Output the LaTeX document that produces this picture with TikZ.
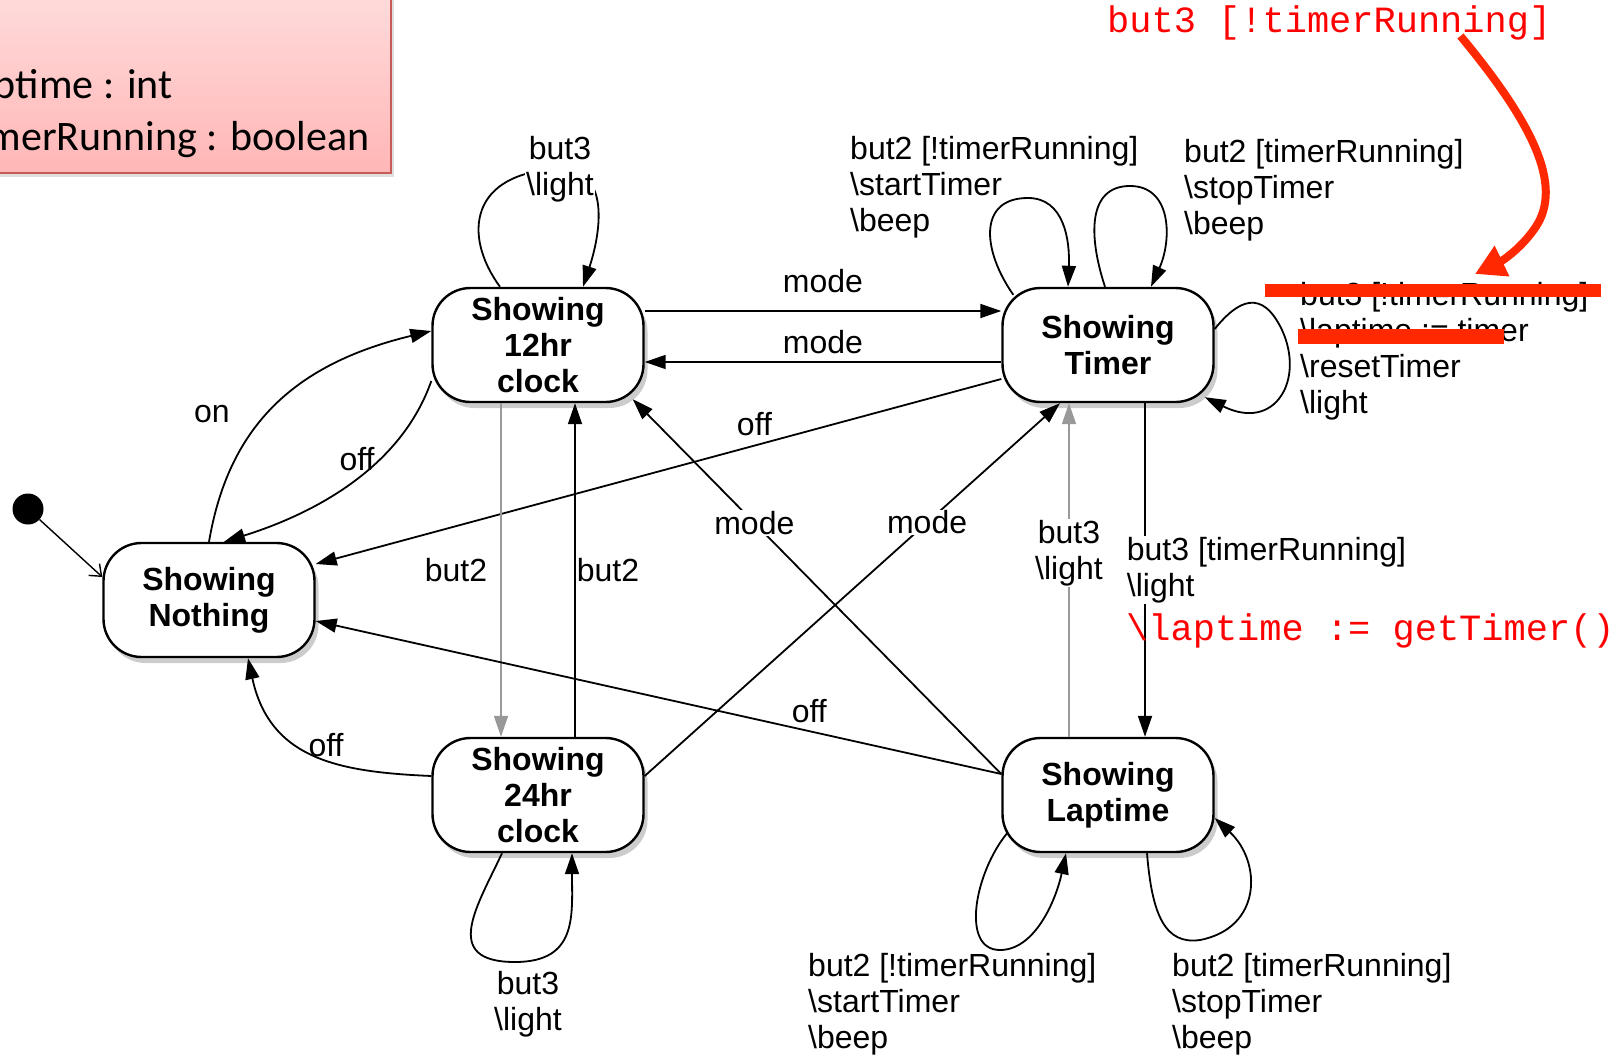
\documentclass[tikz,border=0pt]{standalone}
\usepackage{fontspec}
\setmainfont{Liberation Sans}
\newfontfamily\courfont{Liberation Mono}
\newfontfamily\calfont{Carlito}
\usetikzlibrary{arrows.meta,shadows}
\definecolor{notered}{RGB}{255,0,0}
\definecolor{markred}{RGB}{255,40,0}
\definecolor{boxtop}{RGB}{255,226,226}
\definecolor{boxpink}{RGB}{255,182,182}
\definecolor{boxedge}{RGB}{200,90,88}

\begin{document}
\begin{tikzpicture}[x=1pt,y=1pt,
    state/.style={draw, line width=2.4pt, rounded corners=38pt, fill=white,
      minimum width=211pt, minimum height=114pt, inner sep=0pt, align=center,
      font=\fontsize{32}{36}\selectfont\bfseries,
      drop shadow={shadow xshift=4pt, shadow yshift=-6pt, opacity=0.4}},
    trans/.style={line width=1.8pt, -{Triangle[length=21pt,width=14pt]}},
    faded/.style={trans, draw=black!40},
    lbl/.style={font=\fontsize{32}{36}\selectfont, align=left, inner sep=1pt},
    code/.style={font=\courfont\fontsize{37}{40}\selectfont, text=notered, inner sep=0pt}]
    \useasboundingbox (0,0) rectangle (1623,-1057);

    \draw[draw=boxedge, line width=1.5pt, top color=boxtop, bottom color=boxpink,
      drop shadow={shadow xshift=3pt, shadow yshift=-4pt, opacity=0.25}] (-40,40) rectangle (391,-173);
    \node[anchor=west, font=\calfont\fontsize{42}{52}\selectfont, align=left, inner sep=0pt] (vars) at (-36,-114) {laptime : int\\timerRunning : boolean};

    \node[state] (n12) at (538,-345) {Showing\\12hr\\clock};
    \node[state] (ntm) at (1108,-345) {Showing\\Timer};
    \node[state] (nnt) at (209,-600) {Showing\\Nothing};
    \node[state] (n24) at (538,-795) {Showing\\24hr\\clock};
    \node[state] (nlp) at (1108,-795) {Showing\\Laptime};
    \node[circle, fill, minimum size=31pt, inner sep=0pt] (init) at (28,-509) {};

    \draw[line width=1.4pt, -{Straight Barb[length=10pt,width=16pt]}] (init) -- (nnt.west |- 0,-577);

    \draw[trans] (n12.east |- 0,-311) -- node[lbl, above=16pt] {mode} (ntm.west |- 0,-311);
    \draw[trans] (ntm.west |- 0,-362) -- node[lbl, above=6pt] {mode} (n12.east |- 0,-362);
    \draw[trans] (ntm.west |- 0,-379) -- node[lbl, pos=0.36, above=8pt] {off} (nnt.east |- 0,-564);
    \draw[trans] (n12.west |- 0,-381) .. controls (400,-470) and (310,-515) .. (nnt.north -| 224,0);
    \node[lbl] (off1lbl) at (357,-459) {off};
    \draw[trans] (nnt.north -| 209,0) .. controls (228,-430) and (290,-365) .. (n12.west |- 0,-331);
    \node[lbl] (onlbl) at (212,-414) {on};
    \draw[faded] (n12.south -| 501,0) -- node[lbl, left=12pt] {but2} (n24.north -| 501,0);
    \draw[trans] (n24.north -| 575,0) -- node[lbl, right=0pt] {but2} (n12.south -| 575,0);
    \draw[trans] (n24.west |- 0,-776) .. controls (340,-772) and (270,-760) .. (nnt.south -| 248,0);
    \node[lbl] (off2lbl) at (326,-745) {off};
    \draw[trans] (nlp.west |- 0,-774) -- node[lbl, pos=0.28, above=6pt] {off} (nnt.east |- 0,-621);
    \draw[trans] (nlp.west |- 0,-774) -- node[lbl, fill=white, pos=0.67] {mode} ([shift={(-12,4)}]n12.south east);
    \draw[trans] (n24.east |- 0,-776) -- node[lbl, fill=white, pos=0.68] {mode} (ntm.south -| 1060,0);
    \draw[faded] (nlp.north -| 1069,0) -- node[lbl, fill=white, align=center, pos=0.55] {but3\\{\textbackslash}light} (ntm.south -| 1069,0);
    \draw[trans] (ntm.south -| 1145,0) -- node[lbl, fill=white, anchor=west, xshift=-20pt] {but3 [timerRunning]\\{\textbackslash}light} (nlp.north -| 1145,0);
    \node[code, anchor=west] (lapcode) at (1126,-631) {{\textbackslash}laptime := getTimer()};

    \draw[trans] (n12.north -| 500,0) .. controls (462,-235) and (470,-172) .. (560,-169)
      node[lbl, fill=white, align=center] (l12lbl) {but3\\{\textbackslash}light}
      .. controls (612,-169) and (600,-235) .. (n12.north -| 583,0);
    \draw[trans] (n24.south -| 502,0) .. controls (478,-905) and (440,-962) .. (515,-962)
      .. controls (578,-962) and (572,-915) .. (n24.south -| 572,0);
    \node[lbl, align=center] (l24lbl) at (528,-1004) {but3\\{\textbackslash}light};

    \draw[trans] ([shift={(12,-8)}]ntm.north west) .. controls (982,-250) and (978,-198) .. (1028,-198)
      .. controls (1064,-198) and (1070,-240) .. (ntm.north -| 1068,0);
    \draw[trans] (ntm.north -| 1105,0) .. controls (1088,-235) and (1088,-186) .. (1130,-186)
      .. controls (1172,-186) and (1172,-240) .. (ntm.north -| 1151,0);
    \draw[trans] (ntm.east |- 0,-329) .. controls (1238,-300) and (1262,-288) .. (1282,-330)
      .. controls (1305,-380) and (1275,-432) .. ([shift={(-10,6)}]ntm.south east);
    \node[lbl, anchor=west] (tm1lbl) at (849,-187) {but2 [!timerRunning]\\{\textbackslash}startTimer\\{\textbackslash}beep};
    \node[lbl, anchor=west] (tm2lbl) at (1183,-190) {but2 [timerRunning]\\{\textbackslash}stopTimer\\{\textbackslash}beep};
    \node[lbl, anchor=west] (tm3lbl) at (1299,-351) {but3 [!timerRunning]\\{\textbackslash}laptime := timer\\{\textbackslash}resetTimer\\{\textbackslash}light};

    \draw[trans] ([shift={(6,-38)}]nlp.west) .. controls (975,-872) and (960,-950) .. (1000,-950)
      .. controls (1035,-950) and (1056,-900) .. (nlp.south -| 1066,0);
    \draw[trans] (nlp.south -| 1147,0) .. controls (1152,-915) and (1165,-945) .. (1200,-940)
      .. controls (1262,-928) and (1262,-862) .. (nlp.east |- 0,-818);
    \node[lbl, anchor=west] (lp1lbl) at (807,-1004) {but2 [!timerRunning]\\{\textbackslash}startTimer\\{\textbackslash}beep};
    \node[lbl, anchor=west] (lp2lbl) at (1171,-1004) {but2 [timerRunning]\\{\textbackslash}stopTimer\\{\textbackslash}beep};

    \fill[markred] (1265,-284) rectangle (1601,-297);
    \fill[markred] (1298,-329) rectangle (1504,-344);
    \node[code, anchor=west] (redlbl) at (1107,-23) {but3 [!timerRunning]};
    \coordinate (hint) at (1475,-274);
    \draw[markred, line width=8pt, -{Triangle[length=30pt,width=32pt]}] ([shift={(-91,-13)}]redlbl.east)
      .. controls (1530,-120) and (1565,-185) .. (1535,-228) .. controls (1520,-250) and (1500,-262) .. (hint);
\end{tikzpicture}
\end{document}
